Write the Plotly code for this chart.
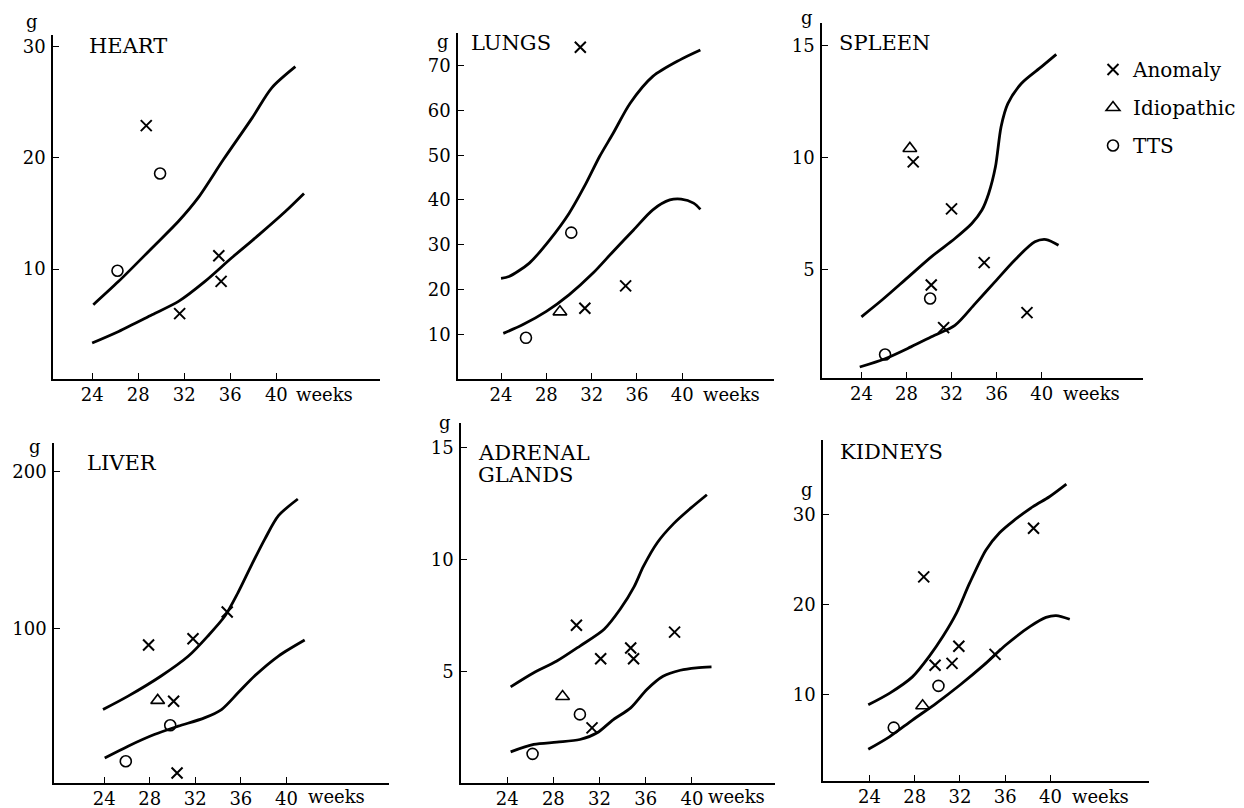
import plotly.graph_objects as go

# ---------------- DATA ----------------
TICK_WEEKS = [24, 28, 32, 36, 40]
TICK_WEEK_LABELS = ["24", "28", "32", "36", "40"]

# HEART
heart_upper_wk = [24.1, 26.3, 29.2, 31.5, 33.2, 35.4, 37.9, 39.6, 41.65]
heart_upper_g = [6.8, 8.9, 11.9, 14.3, 16.4, 19.85, 23.6, 26.3, 28.2]
heart_lower_wk = [24.0, 26.3, 29.2, 31.5, 33.8, 36.1, 38.5, 40.8, 42.4]
heart_lower_g = [3.36, 4.4, 5.9, 7.1, 8.9, 11.0, 13.1, 15.2, 16.8]
heart_anom_wk = [28.7, 31.6, 35.0, 35.2]
heart_anom_g = [22.9, 6.0, 11.2, 8.9]
heart_idio_wk = []
heart_idio_g = []
heart_tts_wk = [26.2, 29.9]
heart_tts_g = [9.85, 18.6]
heart_yticks = [10, 20, 30]

# LUNGS
lungs_upper_wk = [24.0, 24.7, 26.5, 28.3, 30.0, 31.5, 32.7, 33.9, 35.4, 37.4, 39.8, 41.6]
lungs_upper_g = [22.5, 22.9, 25.9, 31.1, 37.0, 43.7, 49.7, 54.9, 61.6, 67.6, 71.3, 73.5]
lungs_lower_wk = [24.2, 25.9, 28.0, 30.0, 32.1, 33.9, 35.7, 37.4, 38.9, 39.9, 41.0, 41.6]
lungs_lower_g = [10.2, 12.1, 15.1, 18.8, 23.6, 28.5, 33.3, 37.8, 40.0, 40.2, 39.3, 37.9]
lungs_anom_wk = [31.0, 31.4, 35.0]
lungs_anom_g = [74.1, 15.8, 20.8]
lungs_idio_wk = [29.2]
lungs_idio_g = [15.0]
lungs_tts_wk = [26.2, 30.2]
lungs_tts_g = [9.2, 32.7]
lungs_yticks = [10, 20, 30, 40, 50, 60, 70]

# SPLEEN
spleen_upper_wk = [24.0, 25.8, 27.85, 30.2, 32.3, 33.8, 34.7, 35.3, 35.9, 36.4, 37.0, 38.2, 40.0, 41.3]
spleen_upper_g = [2.88, 3.62, 4.52, 5.56, 6.38, 7.05, 7.65, 8.39, 9.58, 11.37, 12.4, 13.3, 14.05, 14.6]
spleen_lower_wk = [23.85, 26.1, 28.4, 30.5, 32.3, 34.1, 35.85, 37.6, 39.4, 40.4, 41.5]
spleen_lower_g = [0.64, 1.01, 1.54, 2.06, 2.5, 3.47, 4.44, 5.41, 6.23, 6.33, 6.08]
spleen_anom_wk = [28.6, 32.0, 34.9, 30.2, 31.3, 38.7]
spleen_anom_g = [9.8, 7.7, 5.3, 4.3, 2.4, 3.07]
spleen_idio_wk = [28.3]
spleen_idio_g = [10.4]
spleen_tts_wk = [30.1, 26.1]
spleen_tts_g = [3.7, 1.2]
spleen_yticks = [5, 10, 15]

# LIVER
liver_upper_wk = [23.9, 26.1, 29.0, 31.4, 33.1, 34.6, 35.75, 36.9, 38.1, 39.3, 41.0]
liver_upper_g = [48.6, 57.1, 69.9, 82.6, 95.3, 108, 122.9, 139.9, 156.9, 171.8, 182.4]
liver_lower_wk = [24.05, 26.1, 28.4, 30.5, 32.8, 34.3, 35.75, 37.2, 39.3, 41.6]
liver_lower_g = [17.8, 25.3, 32.7, 38.0, 43.3, 48.6, 59.2, 69.9, 82.6, 92.8]
liver_anom_wk = [27.9, 31.8, 34.8, 30.1, 30.4]
liver_anom_g = [89.6, 93.6, 110.6, 53.9, 8.3]
liver_idio_wk = [28.7]
liver_idio_g = [54.4]
liver_tts_wk = [29.8, 25.9]
liver_tts_g = [38.6, 15.7]
liver_yticks = [100, 200]

# ADRENAL GLANDS
adrenal_upper_wk = [24.3, 26.3, 28.3, 30.3, 32.4, 33.8, 35.0, 35.8, 37.0, 38.4, 39.9, 41.3]
adrenal_upper_g = [4.33, 4.96, 5.48, 6.15, 6.9, 7.8, 8.8, 9.7, 10.76, 11.6, 12.3, 12.9]
adrenal_lower_wk = [24.3, 26.3, 28.3, 30.3, 31.8, 33.2, 34.7, 36.1, 37.5, 39.0, 40.4, 41.7]
adrenal_lower_g = [1.43, 1.76, 1.86, 1.98, 2.28, 2.87, 3.39, 4.21, 4.8, 5.07, 5.18, 5.22]
adrenal_anom_wk = [30.3, 30.0, 32.1, 34.7, 34.95, 38.5, 31.35]
adrenal_anom_g = [16.3, 7.08, 5.58, 6.06, 5.58, 6.77, 2.5]
adrenal_idio_wk = [28.8]
adrenal_idio_g = [3.9]
adrenal_tts_wk = [30.3, 26.2]
adrenal_tts_g = [3.1, 1.34]
adrenal_yticks = [5, 10, 15]

# KIDNEYS
kidneys_upper_wk = [23.9, 25.8, 27.8, 29.3, 30.5, 31.7, 32.85, 34.3, 35.5, 36.7, 38.45, 39.9, 41.4]
kidneys_upper_g = [8.9, 10.2, 12.0, 14.3, 16.5, 19.1, 22.4, 26.1, 28.0, 29.3, 30.9, 32.0, 33.4]
kidneys_lower_wk = [23.9, 25.8, 27.8, 29.9, 32.0, 34.1, 36.1, 38.2, 39.6, 40.5, 41.7]
kidneys_lower_g = [3.96, 5.37, 7.2, 9.07, 11.1, 13.3, 15.6, 17.6, 18.6, 18.8, 18.4]
kidneys_anom_wk = [28.8, 38.5, 31.9, 29.8, 31.3, 35.1]
kidneys_anom_g = [23.1, 28.5, 15.4, 13.3, 13.5, 14.5]
kidneys_idio_wk = [28.7]
kidneys_idio_g = [8.8]
kidneys_tts_wk = [30.1, 26.15]
kidneys_tts_g = [11.0, 6.37]
kidneys_yticks = [10, 20, 30]

PANEL_TITLES = ["HEART", "LUNGS", "SPLEEN", "LIVER", "ADRENAL", "KIDNEYS"]
LEGEND_LABELS = ["Anomaly", "Idiopathic", "TTS"]

# ---------------- LAYOUT / STYLE ----------------
W, H = 1244, 808
FONT = "DejaVu Serif"

panels = [
    dict(curves=[(heart_upper_wk, heart_upper_g), (heart_lower_wk, heart_lower_g)],
         pts=[(heart_anom_wk, heart_anom_g), (heart_idio_wk, heart_idio_g), (heart_tts_wk, heart_tts_g)],
         yticks=heart_yticks, box=(53, 380, 35, 379), xr=[20.6, 49.0], yr=[0.12, 31.05]),
    dict(curves=[(lungs_upper_wk, lungs_upper_g), (lungs_lower_wk, lungs_lower_g)],
         pts=[(lungs_anom_wk, lungs_anom_g), (lungs_idio_wk, lungs_idio_g), (lungs_tts_wk, lungs_tts_g)],
         yticks=lungs_yticks, box=(458, 774, 33, 379), xr=[20.2, 48.1], yr=[0.0, 77.3]),
    dict(curves=[(spleen_upper_wk, spleen_upper_g), (spleen_lower_wk, spleen_lower_g)],
         pts=[(spleen_anom_wk, spleen_anom_g), (spleen_idio_wk, spleen_idio_g), (spleen_tts_wk, spleen_tts_g)],
         yticks=spleen_yticks, box=(822, 1143, 23, 378), xr=[20.5, 49.0], yr=[0.15, 16.0]),
    dict(curves=[(liver_upper_wk, liver_upper_g), (liver_lower_wk, liver_lower_g)],
         pts=[(liver_anom_wk, liver_anom_g), (liver_idio_wk, liver_idio_g), (liver_tts_wk, liver_tts_g)],
         yticks=liver_yticks, box=(54, 389, 443, 783), xr=[19.6, 49.0], yr=[1.9, 218]),
    dict(curves=[(adrenal_upper_wk, adrenal_upper_g), (adrenal_lower_wk, adrenal_lower_g)],
         pts=[(adrenal_anom_wk, adrenal_anom_g), (adrenal_idio_wk, adrenal_idio_g), (adrenal_tts_wk, adrenal_tts_g)],
         yticks=adrenal_yticks, box=(461, 775, 423, 783), xr=[20.0, 47.2], yr=[0.04, 16.1]),
    dict(curves=[(kidneys_upper_wk, kidneys_upper_g), (kidneys_lower_wk, kidneys_lower_g)],
         pts=[(kidneys_anom_wk, kidneys_anom_g), (kidneys_idio_wk, kidneys_idio_g), (kidneys_tts_wk, kidneys_tts_g)],
         yticks=kidneys_yticks, box=(823, 1149, 440, 781), xr=[19.9, 48.7], yr=[0.44, 38.3]),
]

symbols = ["x-thin", "triangle-up-open", "circle-open"]
msizes = [11, 12, 11]
mlw = [2.0, 1.6, 1.6]

fig = go.Figure()
layout = {}
for i, p in enumerate(panels):
    n = "" if i == 0 else str(i + 1)
    xa, ya = "x" + n, "y" + n
    for (wk, g) in p["curves"]:
        fig.add_trace(go.Scatter(x=wk, y=g, mode="lines", xaxis=xa, yaxis=ya,
                                 line=dict(color="black", width=2.8, shape="spline", smoothing=0.8),
                                 showlegend=False, hoverinfo="skip"))
    for k, (wk, g) in enumerate(p["pts"]):
        if not wk:
            continue
        fig.add_trace(go.Scatter(x=wk, y=g, mode="markers", xaxis=xa, yaxis=ya,
                                 name=LEGEND_LABELS[k], legendgroup=LEGEND_LABELS[k],
                                 showlegend=(i == 2), cliponaxis=False,
                                 marker=dict(symbol=symbols[k], size=msizes[k], color="black",
                                             line=dict(color="black", width=mlw[k]))))
    x0, x1, yt, yb = p["box"]
    common = dict(showline=True, linecolor="black", linewidth=1.6, showgrid=False,
                  zeroline=False, ticks="inside", ticklen=6, tickwidth=1.2, tickcolor="black",
                  tickfont=dict(family=FONT, size=18, color="black"))
    layout["xaxis" + n] = dict(domain=[x0 / W, x1 / W], range=p["xr"], anchor=ya,
                               tickvals=TICK_WEEKS, ticktext=TICK_WEEK_LABELS,
                               ticklabelstandoff=-1, **common)
    layout["yaxis" + n] = dict(domain=[1 - yb / H, 1 - yt / H], range=p["yr"], anchor=xa,
                               tickvals=p["yticks"], ticklabelstandoff=2, **common)

ann = []
def A(text, px, py, size=18, xanchor="center"):
    ann.append(dict(text=text, x=px / W, y=1 - py / H, xref="paper", yref="paper",
                    xanchor=xanchor, yanchor="middle", showarrow=False,
                    font=dict(family=FONT, size=size, color="black")))

# unit labels
for (px, py) in [(32, 21), (443, 41), (807, 17), (35, 446), (445, 422), (807, 489)]:
    A("g", px, py)
# panel titles
A(PANEL_TITLES[0], 87, 46, 21, "left")
A(PANEL_TITLES[1], 469, 43, 21, "left")
A(PANEL_TITLES[2], 837, 43, 21, "left")
A(PANEL_TITLES[3], 85, 463, 21, "left")
A(PANEL_TITLES[4], 476, 453, 21, "left")
A("GLANDS", 476, 475, 21, "left")
A(PANEL_TITLES[5], 838, 452, 21, "left")
# "weeks" after the 40 tick
for (px, py) in [(294, 394), (701, 394), (1061, 393), (306, 796), (706, 796), (1070, 796)]:
    A("weeks", px, py, 18, "left")

layout["annotations"] = ann
fig.update_layout(**layout)
fig.update_layout(width=W, height=H, margin=dict(l=0, r=0, t=0, b=0),
                  paper_bgcolor="white", plot_bgcolor="white",
                  font=dict(family=FONT, color="black"),
                  legend=dict(x=1093 / W, y=1 - 50 / H, xanchor="left", yanchor="top",
                              font=dict(family=FONT, size=20, color="black"),
                              itemwidth=30, tracegroupgap=9, bgcolor="rgba(0,0,0,0)"))

fig.write_html("out.html", config={"displayModeBar": False},
               post_script="document.body.style.margin='0';")
